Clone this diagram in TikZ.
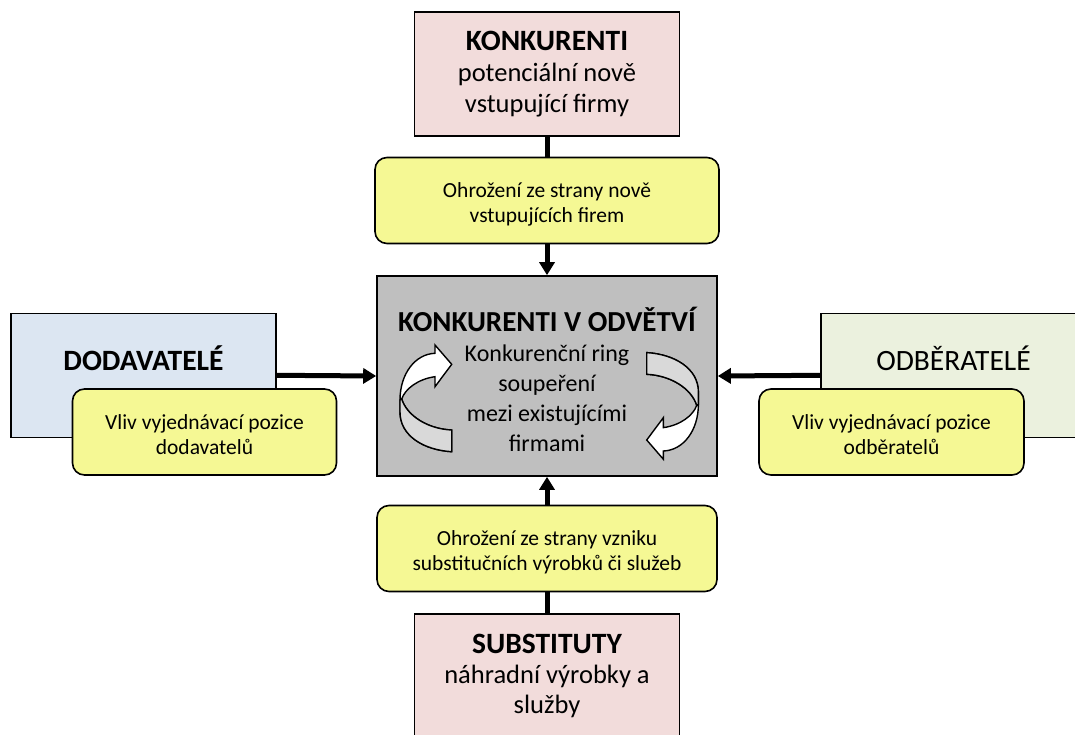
\documentclass[tikz,border=0pt]{standalone}
\usepackage{fontspec}
\setmainfont{Carlito}
\usetikzlibrary{arrows.meta}
\definecolor{entrantPink}{HTML}{F2DCDB}
\definecolor{supplierBlue}{HTML}{DCE6F2}
\definecolor{buyerGreen}{HTML}{EBF1DE}
\definecolor{threatYellow}{HTML}{F5F894}
\definecolor{rivalGray}{HTML}{BFBFBF}
\definecolor{ringBack}{HTML}{D9D9D9}

\begin{document}
\begin{tikzpicture}[x=1pt, y=-1pt,
    force/.style={draw=black, line width=1.6pt, minimum width=265pt, minimum height=124pt, inner sep=0pt, align=center},
    threat/.style={draw=black, line width=1.6pt, fill=threatYellow, rounded corners=12pt, minimum height=86pt, inner sep=0pt, align=center, text height=46pt, text depth=2pt, font=\fontsize{21.5}{25}\selectfont},
    bigtext/.style={align=center, font=\fontsize{26.5}{31}\selectfont},
    sidetext/.style={font=\fontsize{29.5}{31}\selectfont},
    link/.style={line width=5pt},
    push/.style={line width=5pt, -{Triangle[length=13pt, width=15pt]}},
    ring/.style={draw=black, line width=1.4pt, fill=white},
  ]
    \useasboundingbox (0,0) rectangle (1075,735);

    % rivalry in the middle
    \node[force, fill=rivalGray, minimum width=340pt, minimum height=200pt] (rival) at (547,376) {};
    \node[align=center, font=\fontsize{24}{30}\selectfont] (rivalText) at (547,379)
      {{\fontsize{29}{30}\selectfont\bfseries KONKURENTI V ODVĚTVÍ}\\ Konkurenční ring\\ soupeření\\ mezi existujícími\\ firmami};

    % ring arrows (second one turned round)
    \foreach \ang in {0,180} {
      \begin{scope}[rotate around={\ang:(549.2,402.15)}]
        \path[ring] (451.7,451.7) .. controls (424,450) and (400,436) .. (400,412) -- (400,400)
          .. controls (400,374) and (415,354) .. (435,353.3) -- (435,345) -- (451.7,364.3)
          -- (435,386.7) -- (435,376.7) .. controls (418,379) and (405,389) .. (401.7,399)
          .. controls (407,416) and (428,429) .. (451.7,430) -- cycle;
        \path[ring, fill=ringBack] (401.7,399) .. controls (407,416) and (428,429) .. (451.7,430)
          -- (451.7,451.7) .. controls (424,450) and (400,436) .. (400,412) -- (400,400) -- cycle;
      \end{scope}
    }

    % new entrants
    \node[force, fill=entrantPink, bigtext] (entrant) at (547,74)
      {{\fontsize{29.5}{31}\selectfont\bfseries KONKURENTI}\\ potenciální nově\\ vstupující firmy};
    \node[threat, minimum width=344pt] (entrantThreat) at (547,200.5)
      {Ohrožení ze strany nově\\ vstupujících firem};

    % substitutes
    \node[threat, minimum width=340pt] (substThreat) at (547,548.5)
      {Ohrožení ze strany vzniku\\ substitučních výrobků či služeb};
    \node[force, fill=entrantPink, bigtext, font=\fontsize{26.5}{30}\selectfont] (subst) at (547,676)
      {{\fontsize{29.5}{30}\selectfont\bfseries SUBSTITUTY}\\ náhradní výrobky a\\ služby};

    % suppliers
    \node[force, fill=supplierBlue] (supplier) at (143.5,375.3) {};
    \node[sidetext] (supplierText) at ([yshift=17pt]supplier.center) {\bfseries DODAVATELÉ};
    \node[threat, minimum width=264pt] (supplierThreat) at (204.5,432)
      {Vliv vyjednávací pozice\\ dodavatelů};

    % buyers
    \node[force, fill=buyerGreen] (buyer) at (953.5,375.3) {};
    \node[sidetext] (buyerText) at ([yshift=17pt]buyer.center) {ODBĚRATELÉ};
    \node[threat, minimum width=265pt] (buyerThreat) at (891.5,432)
      {Vliv vyjednávací pozice\\ odběratelů};

    % connectors
    \draw[link] (entrant.south) -- (entrantThreat.north);
    \draw[push] (entrantThreat.south) -- (rival.north);
    \draw[link] (subst.north) -- (substThreat.south);
    \draw[push] (substThreat.north) -- (rival.south);
    \draw[push] (supplier.east) -- (rival.west);
    \draw[push] (buyer.west) -- (rival.east);
\end{tikzpicture}
\end{document}
